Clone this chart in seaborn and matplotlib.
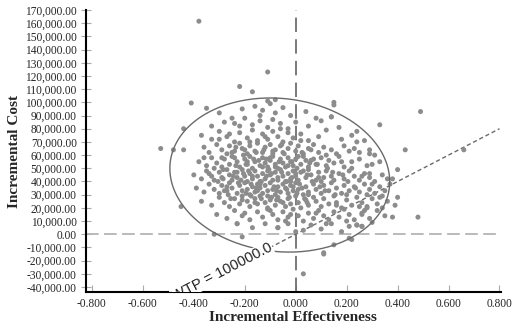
import numpy as np
import pandas as pd
import matplotlib
matplotlib.use('Agg')
import matplotlib.pyplot as plt
import seaborn as sns
from matplotlib.ticker import FuncFormatter, MultipleLocator

sns.set_style('white')
plt.rcParams['font.family'] = ['Liberation Serif', 'DejaVu Serif']

# Incremental effectiveness / incremental cost (thousands)
eff = [
    # 90-100k
    -0.30, -0.25, -0.21, -0.16, -0.13, -0.10, -0.08, -0.05, -0.02, 0.04, 0.08, 0.14,
    # 80-90k
    -0.33, -0.28, -0.24, -0.20, -0.17, -0.14, -0.11, -0.09, -0.06, -0.03, 0.00, 0.05, 0.10, 0.17, 0.24,
    # 70-80k
    -0.37, -0.33, -0.30, -0.27, -0.24, -0.22, -0.19, -0.17, -0.15, -0.13, -0.11, -0.09,
    -0.07, -0.05, -0.03, -0.01, 0.02, 0.05, 0.09, 0.12, 0.18, 0.22, 0.27,
    # 60-70k
    -0.36, -0.34, -0.31, -0.29, -0.27, -0.26, -0.24, -0.22, -0.21, -0.19, -0.18, -0.16,
    -0.15, -0.13, -0.12, -0.10, -0.09, -0.08, -0.06, -0.05, -0.03, -0.02, 0.00, 0.01,
    0.03, 0.05, 0.07, 0.09, 0.11, 0.14, 0.16, 0.19, 0.21, 0.25, 0.31,
    # 50-60k
    -0.38, -0.35, -0.33, -0.31, -0.29, -0.28, -0.26, -0.25, -0.23, -0.22, -0.20, -0.19,
    -0.18, -0.17, -0.16, -0.14, -0.13, -0.12, -0.11, -0.10, -0.09, -0.08, -0.07, -0.06,
    -0.05, -0.04, -0.03, -0.02, -0.01, 0.00, 0.02, 0.03, 0.05, 0.06, 0.08, 0.10,
    0.12, 0.13, 0.15, 0.17, 0.19, 0.22, 0.25, 0.28, 0.33,
    # 40-50k
    -0.40, -0.37, -0.35, -0.33, -0.32, -0.30, -0.29, -0.27, -0.26, -0.25, -0.24, -0.23,
    -0.21, -0.20, -0.19, -0.18, -0.17, -0.16, -0.15, -0.14, -0.13, -0.12, -0.11, -0.10,
    -0.09, -0.08, -0.07, -0.06, -0.05, -0.04, -0.03, -0.02, -0.01, 0.00, 0.01, 0.02,
    0.04, 0.05, 0.06, 0.08, 0.09, 0.11, 0.12, 0.14, 0.15, 0.17, 0.19, 0.21, 0.23,
    0.25, 0.27, 0.29, 0.31, 0.34, 0.36,
    # 30-40k
    -0.39, -0.36, -0.34, -0.32, -0.30, -0.29, -0.27, -0.26, -0.25, -0.23, -0.22, -0.21,
    -0.20, -0.19, -0.18, -0.17, -0.16, -0.15, -0.14, -0.13, -0.12, -0.11, -0.10, -0.09,
    -0.08, -0.07, -0.06, -0.05, -0.04, -0.03, -0.02, -0.01, 0.00, 0.01, 0.03, 0.04,
    0.05, 0.07, 0.08, 0.10, 0.11, 0.13, 0.14, 0.16, 0.18, 0.19, 0.21, 0.23, 0.25,
    0.27, 0.29, 0.31, 0.33, 0.35, 0.37,
    # 20-30k
    -0.37, -0.33, -0.30, -0.28, -0.26, -0.24, -0.22, -0.21, -0.19, -0.18, -0.16, -0.15,
    -0.14, -0.12, -0.11, -0.10, -0.08, -0.07, -0.06, -0.04, -0.03, -0.02, 0.00, 0.01,
    0.02, 0.04, 0.05, 0.07, 0.08, 0.10, 0.11, 0.13, 0.15, 0.16, 0.18, 0.20, 0.22,
    0.24, 0.26, 0.28, 0.30, 0.32, 0.34, 0.36, 0.39,
    # 10-20k
    -0.31, -0.27, -0.24, -0.21, -0.18, -0.15, -0.13, -0.11, -0.09, -0.07, -0.05, -0.03,
    -0.01, 0.01, 0.03, 0.05, 0.07, 0.09, 0.11, 0.13, 0.15, 0.17, 0.19, 0.21, 0.23,
    0.26, 0.29, 0.32, 0.35, 0.20,
    # 0-10k
    -0.23, -0.17, -0.12, -0.07, -0.03, 0.00, 0.03, 0.06, 0.10, 0.14, 0.18, 0.21, 0.24, 0.26, 0.30,
    # below zero
    0.22, 0.21, 0.11, 0.03, -0.21, 0.15, -0.32, 0.11,
    # dense core
    -0.235, -0.205, -0.175, -0.145, -0.115, -0.085, -0.055, -0.025, 0.015, 0.045,
    -0.195, -0.165, -0.135, -0.105, -0.075, -0.045, -0.015, 0.025, 0.055, -0.225,
    -0.205, -0.185, -0.155, -0.125, -0.095, -0.065, -0.035, 0.005, 0.035, 0.065,
    0.095, 0.125, -0.245, -0.265, -0.285, -0.305, 0.155, 0.185, 0.205, 0.235,
    -0.29, -0.27, -0.25, -0.23, -0.21, -0.19, -0.17, -0.15, -0.13, -0.11,
    -0.09, -0.07, -0.05, -0.03, -0.01, 0.01, 0.03, 0.05, 0.07, 0.09,
    -0.285, -0.255, -0.235, -0.215, -0.195, -0.175, -0.155, -0.135, -0.115, -0.095,
    -0.075, -0.055, -0.035, -0.015, 0.005, 0.025, 0.045, 0.085, 0.115, 0.145,
    -0.32, -0.18, -0.12, -0.06, 0.02, -0.22, -0.14, -0.26, 0.06, 0.12,
    0.18, 0.22, 0.26, 0.30, 0.33, 0.27, 0.16, 0.08, -0.02, -0.10,
    -0.16, -0.20, -0.28, -0.34, -0.36, -0.30, -0.20, -0.10, 0.00, 0.10,
    0.20, 0.28, 0.34, 0.12, -0.04, -0.14, -0.08, -0.02, 0.04, -0.24,
    # outliers
    -0.38, -0.11, -0.22, -0.17, -0.41, -0.35, -0.11, -0.08, 0.15, 0.15, 0.14,
    -0.53, -0.48, -0.44, -0.44, -0.45, -0.23, -0.07,
    0.49, 0.33, 0.43, 0.66, 0.40, 0.40, 0.38, 0.48, 0.38,
    0.24, 0.23, 0.29, 0.29, 0.30, 0.29, 0.24, 0.26, 0.28, 0.26, 0.25,
]

cost_k = [
    92, 88, 95, 97, 94, 99, 92, 96, 90, 93, 88, 89,
    82, 85, 84, 88, 83, 86, 81, 87, 84, 80, 85, 82, 86, 81, 78,
    75, 72, 78, 74, 70, 77, 73, 79, 71, 76, 72, 78,
    74, 70, 77, 73, 76, 71, 74, 79, 72, 75, 71,
    66, 62, 68, 64, 61, 67, 63, 69, 65, 61, 67, 63,
    69, 62, 66, 68, 61, 64, 67, 62, 65, 69, 63, 67,
    61, 65, 68, 62, 66, 64, 61, 67, 63, 62, 60,
    55, 52, 58, 54, 51, 57, 53, 59, 55, 51, 57, 53,
    59, 50, 55, 52, 58, 54, 51, 56, 59, 53, 50, 57,
    54, 51, 58, 55, 52, 57, 53, 59, 51, 56, 53, 58,
    52, 56, 54, 59, 51, 55, 57, 52, 55,
    45, 42, 48, 44, 41, 47, 43, 49, 45, 41, 47, 43,
    49, 44, 40, 46, 42, 48, 44, 40, 46, 42, 48, 45,
    41, 47, 43, 49, 44, 40, 46, 42, 48, 44, 41, 47,
    43, 49, 45, 41, 47, 43, 48, 44, 41, 46, 42, 48, 44,
    41, 46, 43, 40, 45, 42,
    35, 32, 38, 34, 31, 37, 33, 39, 35, 31, 37, 33,
    39, 34, 30, 36, 32, 38, 35, 31, 37, 33, 39, 34,
    30, 36, 32, 38, 35, 31, 37, 33, 39, 34, 30, 36,
    32, 38, 34, 31, 37, 33, 39, 35, 31, 37, 33, 36, 32,
    38, 34, 31, 36, 33, 38,
    25, 22, 28, 24, 21, 27, 23, 29, 25, 21, 27, 23,
    29, 24, 20, 26, 22, 28, 25, 21, 27, 23, 29, 24,
    20, 26, 22, 28, 25, 21, 27, 23, 29, 24, 20, 26, 22,
    28, 24, 21, 27, 23, 29, 25, 22,
    15, 12, 18, 14, 11, 17, 13, 19, 15, 11, 17, 13,
    19, 14, 10, 16, 12, 18, 14, 11, 17, 13, 19, 15, 11,
    16, 12, 18, 14, 10,
    8, 5, 8, 5, 8, 2, 3, 7, 4, 8, 2, 6, 7, 6, 9,
    -4, -3, -14, -30, -2, -8, 0, -15,
    52, 46, 38, 56, 44, 36, 47, 28, 38, 45,
    31, 57, 27, 49, 33, 61, 43, 35, 54, 39,
    60, 48, 35, 64, 28, 55, 40, 50, 27, 40,
    36, 50, 44, 30, 49, 40, 30, 45, 40, 35,
    58, 36, 62, 47, 26, 55, 44, 33, 51, 29,
    63, 41, 24, 52, 36, 59, 48, 30, 57, 43,
    42, 27, 66, 41, 53, 29, 62, 40, 57, 46,
    26, 68, 34, 55, 31, 62, 24, 53, 33, 47,
    50, 70, 74, 80, 71, 82, 90, 76, 64, 60,
    55, 50, 44, 38, 28, 18, 22, 16, 15, 18,
    24, 16, 33, 46, 58, 72, 64, 58, 46, 40,
    30, 30, 20, 8, 10, 38, 51, 40, 56, 58,
    161.5, 123, 112, 108, 99.5, 95.5, 101, 102, 98, 100, 89,
    65, 64, 64, 80, 21, 8, 5,
    93, 83, 64, 64, 49, 28, 13, 13, 42,
    70, 65, 64, 61, 53, 46, 7, 6, 20, 15, 21,
]

# confidence ellipse: centre, half-width, half-height, tilt
ell_cx, ell_cy = -0.0625, 44.9
ell_a, ell_b, ell_c = 0.4315, 58.2, -5.0

wtp = 100000.0
x_ticks = [-0.8, -0.6, -0.4, -0.2, 0.0, 0.2, 0.4, 0.6, 0.8]

df = pd.DataFrame({'eff': eff, 'cost': np.array(cost_k) * 1000})

fig, ax = plt.subplots(figsize=(5.2, 3.33), dpi=100)
fig.subplots_adjust(left=0.165, right=0.963, top=0.970, bottom=0.123)

# quadrant lines
ax.axhline(0, color='#b4b4b4', lw=1.3, dashes=(7, 3), zorder=1)
ax.axvline(0, color='#6e6e6e', lw=1.3, dashes=(8, 4), zorder=1)

sns.scatterplot(data=df, x='eff', y='cost', ax=ax, color='#8c8c8c', s=13,
                edgecolor='none', zorder=3, legend=False)

t = np.linspace(0, 2 * np.pi, 300)
ax.plot(ell_cx + ell_a * np.cos(t),
        (ell_cy + ell_b * np.sin(t) + ell_c * np.cos(t)) * 1000,
        color='#6a6a6a', lw=1.0, zorder=4)

ax.set_xlim(-0.824, 0.805)
ax.set_ylim(-43800, 170000)

# willingness to pay threshold
xl = np.array([-0.83, 0.8])
ax.plot(xl, xl * wtp, color='#6a6a6a', lw=1.0, dashes=(3, 2), zorder=2)
ang = np.degrees(np.arctan2(131.9, 255))
ax.text(-0.095, -0.095 * wtp, 'WTP = 100000.0', rotation=ang, rotation_mode='anchor',
        ha='right', va='center', fontsize=10.5, family=['Liberation Sans', 'DejaVu Sans'],
        color='#222222', clip_on=True, zorder=5,
        bbox=dict(facecolor='white', edgecolor='none', pad=0.5))

ax.set_xticks(x_ticks)
ax.yaxis.set_major_locator(MultipleLocator(10000))
ax.yaxis.set_major_formatter(FuncFormatter(lambda v, p: f'{v:,.2f}'))
ax.xaxis.set_major_formatter(FuncFormatter(lambda v, p: f'{v:.3f}'))
ax.tick_params(axis='y', direction='inout', length=7, width=0.8, color='#aaaaaa',
               labelsize=8.3, pad=3, left=True)
ax.tick_params(axis='x', direction='in', length=5, width=0.8, color='#aaaaaa',
               labelsize=8.3, pad=4, bottom=True)

for side in ['top', 'right']:
    ax.spines[side].set_visible(False)
for side in ['left', 'bottom']:
    ax.spines[side].set_color('black')
    ax.spines[side].set_linewidth(1.5)

ax.set_xlabel('Incremental Effectiveness', fontsize=11, fontweight='bold', labelpad=1)
ax.set_ylabel('Incremental Cost', fontsize=11, fontweight='bold', labelpad=3)

plt.savefig('out.png', dpi=100)
